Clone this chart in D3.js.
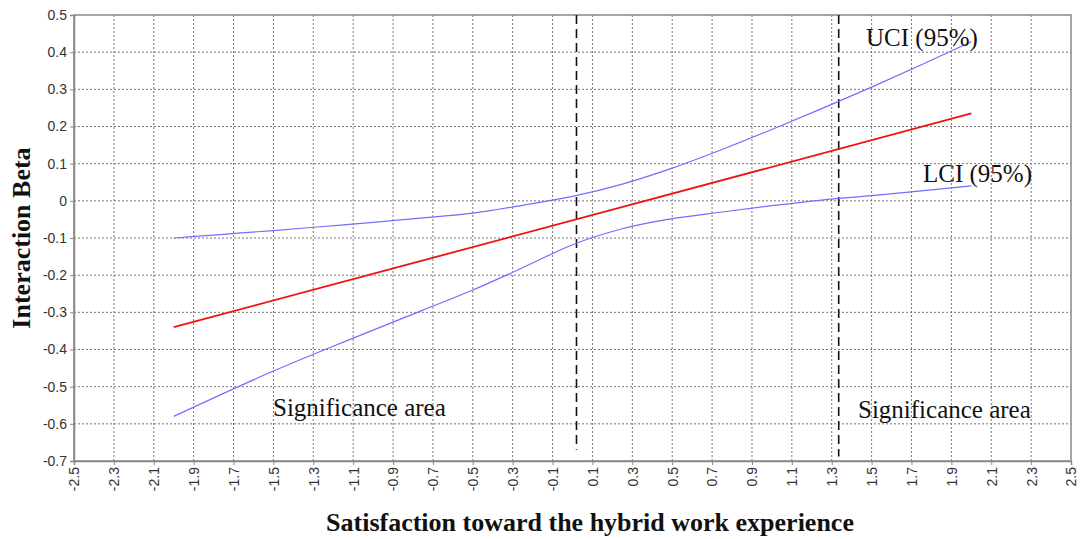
<!DOCTYPE html>
<html>
<head>
<meta charset="utf-8">
<script src="https://cdn.jsdelivr.net/npm/d3@7"></script>
<style>
  body { margin: 0; background: #fff; }
  svg text.tick-label { font-family: "Liberation Sans", Arial, sans-serif; font-size: 14px; fill: #333; }
  .serif { font-family: "Liberation Serif", "Times New Roman", serif; }
</style>
</head>
<body>
<div id="chart"></div>
<script>
// moderator values (x) and estimated betas
const xs = [-2, -1.75, -1.5, -1.25, -1, -0.75, -0.5, -0.25, 0, 0.25, 0.5, 0.75, 1, 1.25, 1.5, 1.75, 2];
const uci = [-0.100, -0.090, -0.080, -0.069, -0.058, -0.046, -0.033, -0.012, 0.012, 0.045, 0.088, 0.138, 0.192, 0.248, 0.306, 0.366, 0.428];
const lci = [-0.580, -0.518, -0.458, -0.402, -0.348, -0.294, -0.240, -0.180, -0.118, -0.075, -0.048, -0.030, -0.013, 0.002, 0.014, 0.027, 0.040];
const betaX = [-2, 2];
const beta = [-0.34, 0.235];
const cutoffs = [0.02, 1.335];
const cutoffBottom = [-0.67, -0.688];
const xTicks = d3.range(-2.5, 2.51, 0.2).map(v => +v.toFixed(1));
const yTicks = d3.range(-0.7, 0.51, 0.1).map(v => +v.toFixed(1));

const width = 1082, height = 539;
const margin = {top: 15, right: 11, bottom: 78, left: 74};

let svg = d3.select("#chart").append("svg")
    .attr("width", width)
    .attr("height", height);

let x = d3.scaleLinear().domain([-2.5, 2.5]).range([margin.left, width - margin.right]);
let y = d3.scaleLinear().domain([-0.7, 0.5]).range([height - margin.bottom, margin.top]);

// grid
let grid = svg.append("g").attr("stroke", "#777").attr("stroke-width", 1).attr("stroke-dasharray", "2,2");
grid.selectAll("line.v").data(xTicks.slice(1, -1)).enter().append("line")
    .attr("x1", d => x(d)).attr("x2", d => x(d))
    .attr("y1", y(0.5)).attr("y2", y(-0.7));
grid.selectAll("line.h").data(yTicks.slice(1, -1)).enter().append("line")
    .attr("y1", d => y(d)).attr("y2", d => y(d))
    .attr("x1", x(-2.5)).attr("x2", x(2.5));

// frame
svg.append("rect")
    .attr("x", x(-2.5)).attr("y", y(0.5))
    .attr("width", x(2.5) - x(-2.5)).attr("height", y(-0.7) - y(0.5))
    .attr("fill", "none").attr("stroke", "#888").attr("stroke-width", 1.5);

// axes (plain hyphen for minus, as in the original)
let fmt = d => String(d);

let xAxis = svg.append("g")
    .attr("transform", `translate(0, ${ y(-0.7) })`)
    .call(d3.axisBottom(x).tickValues(xTicks).tickSize(4).tickFormat(fmt));
xAxis.select(".domain").attr("stroke", "#888").attr("stroke-width", 1.5);
xAxis.selectAll(".tick line").attr("stroke", "#888");
xAxis.selectAll(".tick text")
    .attr("class", "tick-label")
    .attr("transform", "rotate(-90)")
    .attr("text-anchor", "end")
    .attr("x", -6).attr("y", 0).attr("dy", "0.35em");

let yAxis = svg.append("g")
    .attr("transform", `translate(${ x(-2.5) }, 0)`)
    .call(d3.axisLeft(y).tickValues(yTicks).tickSize(4).tickFormat(fmt));
yAxis.select(".domain").attr("stroke", "#888").attr("stroke-width", 1.5);
yAxis.selectAll(".tick line").attr("stroke", "#888");
yAxis.selectAll(".tick text").attr("class", "tick-label").attr("x", -7);

// cutoffs
svg.selectAll("line.cut").data(cutoffs).enter().append("line")
    .attr("x1", d => x(d)).attr("x2", d => x(d))
    .attr("y1", y(0.5)).attr("y2", (d, i) => y(cutoffBottom[i]))
    .attr("stroke", "#111").attr("stroke-width", 1.6).attr("stroke-dasharray", "9,5");

// lines
let line = d3.line().x(d => x(d[0])).y(d => y(d[1])).curve(d3.curveMonotoneX);
svg.append("path").datum(d3.zip(xs, uci)).attr("d", line)
    .attr("fill", "none").attr("stroke", "#6f6fff").attr("stroke-width", 1.2);
svg.append("path").datum(d3.zip(xs, lci)).attr("d", line)
    .attr("fill", "none").attr("stroke", "#6f6fff").attr("stroke-width", 1.2);
svg.append("path").datum(d3.zip(betaX, beta)).attr("d", line)
    .attr("fill", "none").attr("stroke", "#f01010").attr("stroke-width", 1.8);

// annotations
let notes = [
  {t: "UCI (95%)", x: 866, y: 46},
  {t: "LCI (95%)", x: 923, y: 182},
  {t: "Significance area", x: 273, y: 416},
  {t: "Significance area", x: 858, y: 418}
];
svg.selectAll("text.note").data(notes).enter().append("text")
    .attr("class", "serif")
    .attr("x", d => d.x).attr("y", d => d.y)
    .attr("font-size", 25).attr("fill", "#111")
    .text(d => d.t);

// axis titles
svg.append("text")
    .attr("class", "serif")
    .attr("transform", `translate(30, ${ (y(0.5) + y(-0.7)) / 2 }) rotate(-90)`)
    .attr("text-anchor", "middle")
    .attr("font-size", 26).attr("font-weight", "bold").attr("fill", "#111")
    .text("Interaction Beta");

svg.append("text")
    .attr("class", "serif")
    .attr("x", 590).attr("y", 531)
    .attr("text-anchor", "middle")
    .attr("font-size", 26).attr("font-weight", "bold").attr("fill", "#111")
    .text("Satisfaction toward the hybrid work experience");
</script>
</body>
</html>
